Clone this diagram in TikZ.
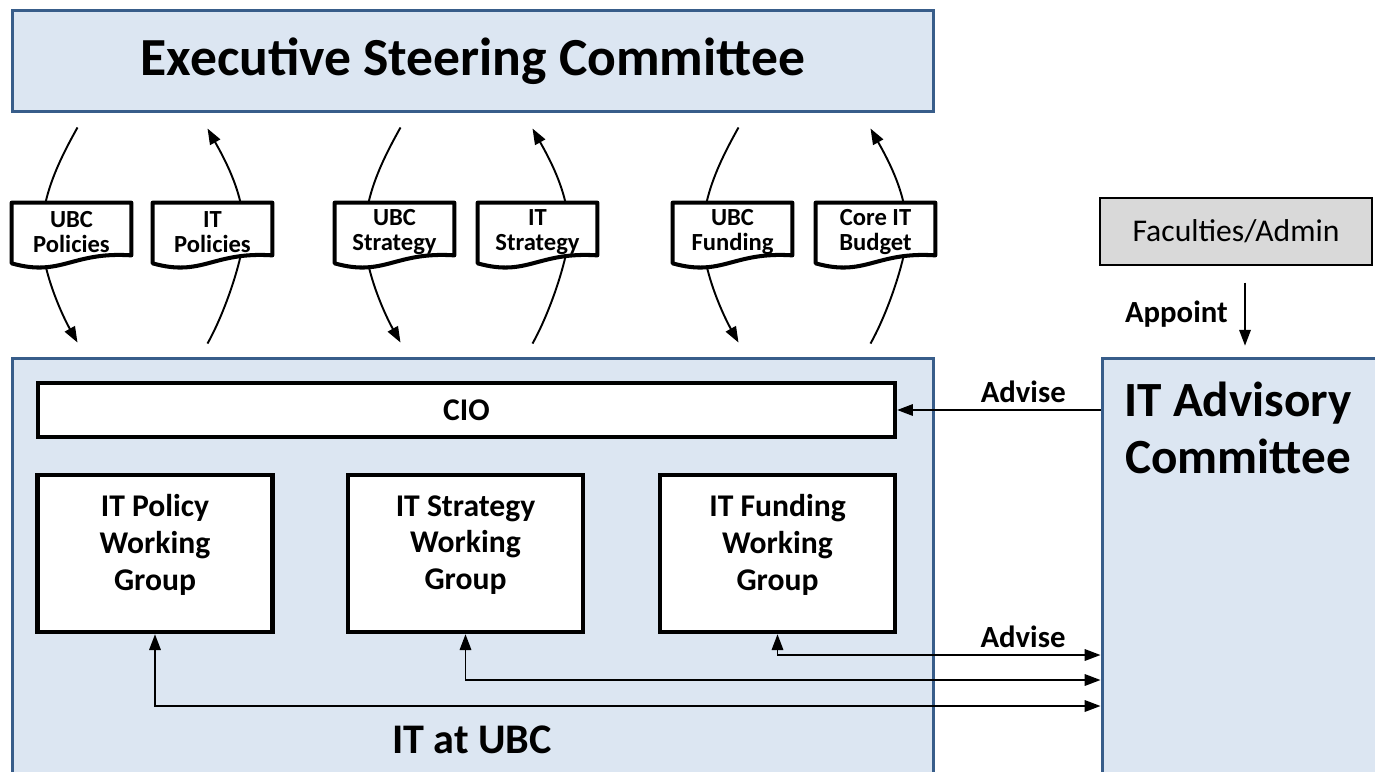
\documentclass[tikz,border=0pt]{standalone}
\usepackage{fontspec}
\setmainfont{Carlito}
\usetikzlibrary{arrows.meta,calc}
\definecolor{boxblue}{HTML}{DCE6F2}
\definecolor{edgeblue}{HTML}{385D8A}
\definecolor{facgray}{HTML}{D9D9D9}
\tikzset{
	bigbox/.style={rectangle, draw=edgeblue, line width=1.7pt, fill=boxblue},
	docbox/.style={minimum width=2.38cm, minimum height=1.16cm, inner sep=0pt, align=center, font=\bfseries\fontsize{14}{14}\selectfont},
	docline/.style={draw, line width=2.3pt, line join=round},
	wgbox/.style={draw, fill=white, line width=2.5pt, minimum width=4.7cm, minimum height=3.14cm, align=center, text depth=12.5pt, font=\bfseries\fontsize{18}{21}\selectfont},
	lbl/.style={font=\bfseries\fontsize{17.5}{20}\selectfont},
	link/.style={line width=1.1pt},
	flow/.style={line width=1.1pt, -{Triangle[length=9pt,width=6.5pt]}},
	adv/.style={line width=1.1pt, {Triangle[length=9pt,width=6.5pt]}-{Triangle[length=9pt,width=6.5pt]}},
}
\newcommand{\docoutline}[1]{\draw[docline] (#1.north west) -- (#1.north east) -- ($(#1.south east)+(0,-6)$) .. controls +(-60,-4) and +(50,14) .. ($(#1.south west)+(0,2)$) -- cycle;}
\begin{document}
\begin{tikzpicture}[x=0.02cm, y=-0.02cm]
	\useasboundingbox (0,0) rectangle (1375,771);
	\clip (0,0) rectangle (1375,771);
	
	\node[bigbox, minimum width=18.44cm, minimum height=2.04cm, font=\bfseries\fontsize{30.5}{36}\selectfont] (exec) at (473,61) {Executive Steering Committee};
	\node[bigbox, minimum width=18.44cm, minimum height=8.84cm] (itubc) at (473,579) {};
	\node[bigbox, minimum width=5.96cm, minimum height=8.84cm] (itadv) at (1251,579) {};
	\node[draw, fill=facgray, line width=0.8pt, minimum width=5.44cm, minimum height=1.34cm, font=\fontsize{18}{21}\selectfont] (faculty) at (1236,231.5) {Faculties/Admin};
	
	\node[docbox] (ubcpol) at (71.5,232) {UBC\\Policies};
	\node[docbox] (itpol) at (212.5,232) {IT\\Policies};
	\node[docbox] (ubcstr) at (394.5,232) {UBC\\Strategy};
	\node[docbox] (itstr) at (537.5,232) {IT\\Strategy};
	\node[docbox] (ubcfund) at (732.5,232) {UBC\\Funding};
	\node[docbox] (corebud) at (875.5,232) {Core IT\\Budget};
	\docoutline{ubcpol}
	\docoutline{itpol}
	\docoutline{ubcstr}
	\docoutline{itstr}
	\docoutline{ubcfund}
	\docoutline{corebud}
	
	\node[draw, fill=white, line width=2.5pt, minimum width=17.14cm, minimum height=1.08cm, font=\bfseries\fontsize{18}{21}\selectfont] (cio) at (466.5,410) {CIO};
	\node[wgbox] (wgpol) at (155,553.5) {IT Policy\\Working\\Group};
	\node[wgbox] (wgstr) at (465.5,553.5) {IT Strategy\\Working\\Group};
	\node[wgbox] (wgfund) at (777.5,553.5) {IT Funding\\Working\\Group};
	
	\node[font=\bfseries\fontsize{24}{28}\selectfont] (itubctext) at (472,740) {IT at UBC};
	\node[font=\bfseries\fontsize{28}{32}\selectfont, align=center] (itadvtext) at (1238,428) {IT Advisory\\Committee};
	
	% policies
	\draw[link] ($(ubcpol.north |- exec.south)+(6,14)$) .. controls +(-14,25) and +(6,-26) .. ($(ubcpol.north)+(-26,0)$);
	\draw[flow] ($(ubcpol.south)+(-26,4)$) .. controls +(6,26) and +(-14,-25) .. ($(ubcpol.south |- itubc.north)+(6,-14)$);
	\draw[flow] ($(itpol.north)+(28,0)$) .. controls +(-6,-26) and +(14,25) .. ($(itpol.north |- exec.south)+(-5,15)$);
	\draw[link] ($(itpol.south)+(28,-5)$) .. controls +(-6,26) and +(14,-25) .. ($(itpol.south |- itubc.north)+(-5,-13)$);
	
	% strategy
	\draw[link] ($(ubcstr.north |- exec.south)+(6,14)$) .. controls +(-14,25) and +(6,-26) .. ($(ubcstr.north)+(-26,0)$);
	\draw[flow] ($(ubcstr.south)+(-26,4)$) .. controls +(6,26) and +(-14,-25) .. ($(ubcstr.south |- itubc.north)+(6,-14)$);
	\draw[flow] ($(itstr.north)+(28,0)$) .. controls +(-6,-26) and +(14,25) .. ($(itstr.north |- exec.south)+(-5,15)$);
	\draw[link] ($(itstr.south)+(28,-5)$) .. controls +(-6,26) and +(14,-25) .. ($(itstr.south |- itubc.north)+(-5,-13)$);
	
	% funding
	\draw[link] ($(ubcfund.north |- exec.south)+(6,14)$) .. controls +(-14,25) and +(6,-26) .. ($(ubcfund.north)+(-26,0)$);
	\draw[flow] ($(ubcfund.south)+(-26,4)$) .. controls +(6,26) and +(-14,-25) .. ($(ubcfund.south |- itubc.north)+(6,-14)$);
	\draw[flow] ($(corebud.north)+(28,0)$) .. controls +(-6,-26) and +(14,25) .. ($(corebud.north |- exec.south)+(-5,15)$);
	\draw[link] ($(corebud.south)+(28,-5)$) .. controls +(-6,26) and +(14,-25) .. ($(corebud.south |- itubc.north)+(-5,-13)$);
	
	% advisory committee
	\draw[flow] ($(faculty.south)+(9,17)$) -- node[left=6pt, lbl] (appoint) {Appoint} ++(0,63);
	\draw[flow] (itadv.west |- cio.east) -- node[above, pos=0.38, lbl] (advtop) {Advise} (cio.east);
	\draw[adv] (wgfund.south) |- node[above, pos=0.88, lbl] (advbot) {Advise} ($(itadv.west)+(0,76)$);
	\draw[adv] (wgstr.south) |- ($(itadv.west)+(0,101)$);
	\draw[adv] (wgpol.south) |- ($(itadv.west)+(0,127)$);
\end{tikzpicture}
\end{document}
